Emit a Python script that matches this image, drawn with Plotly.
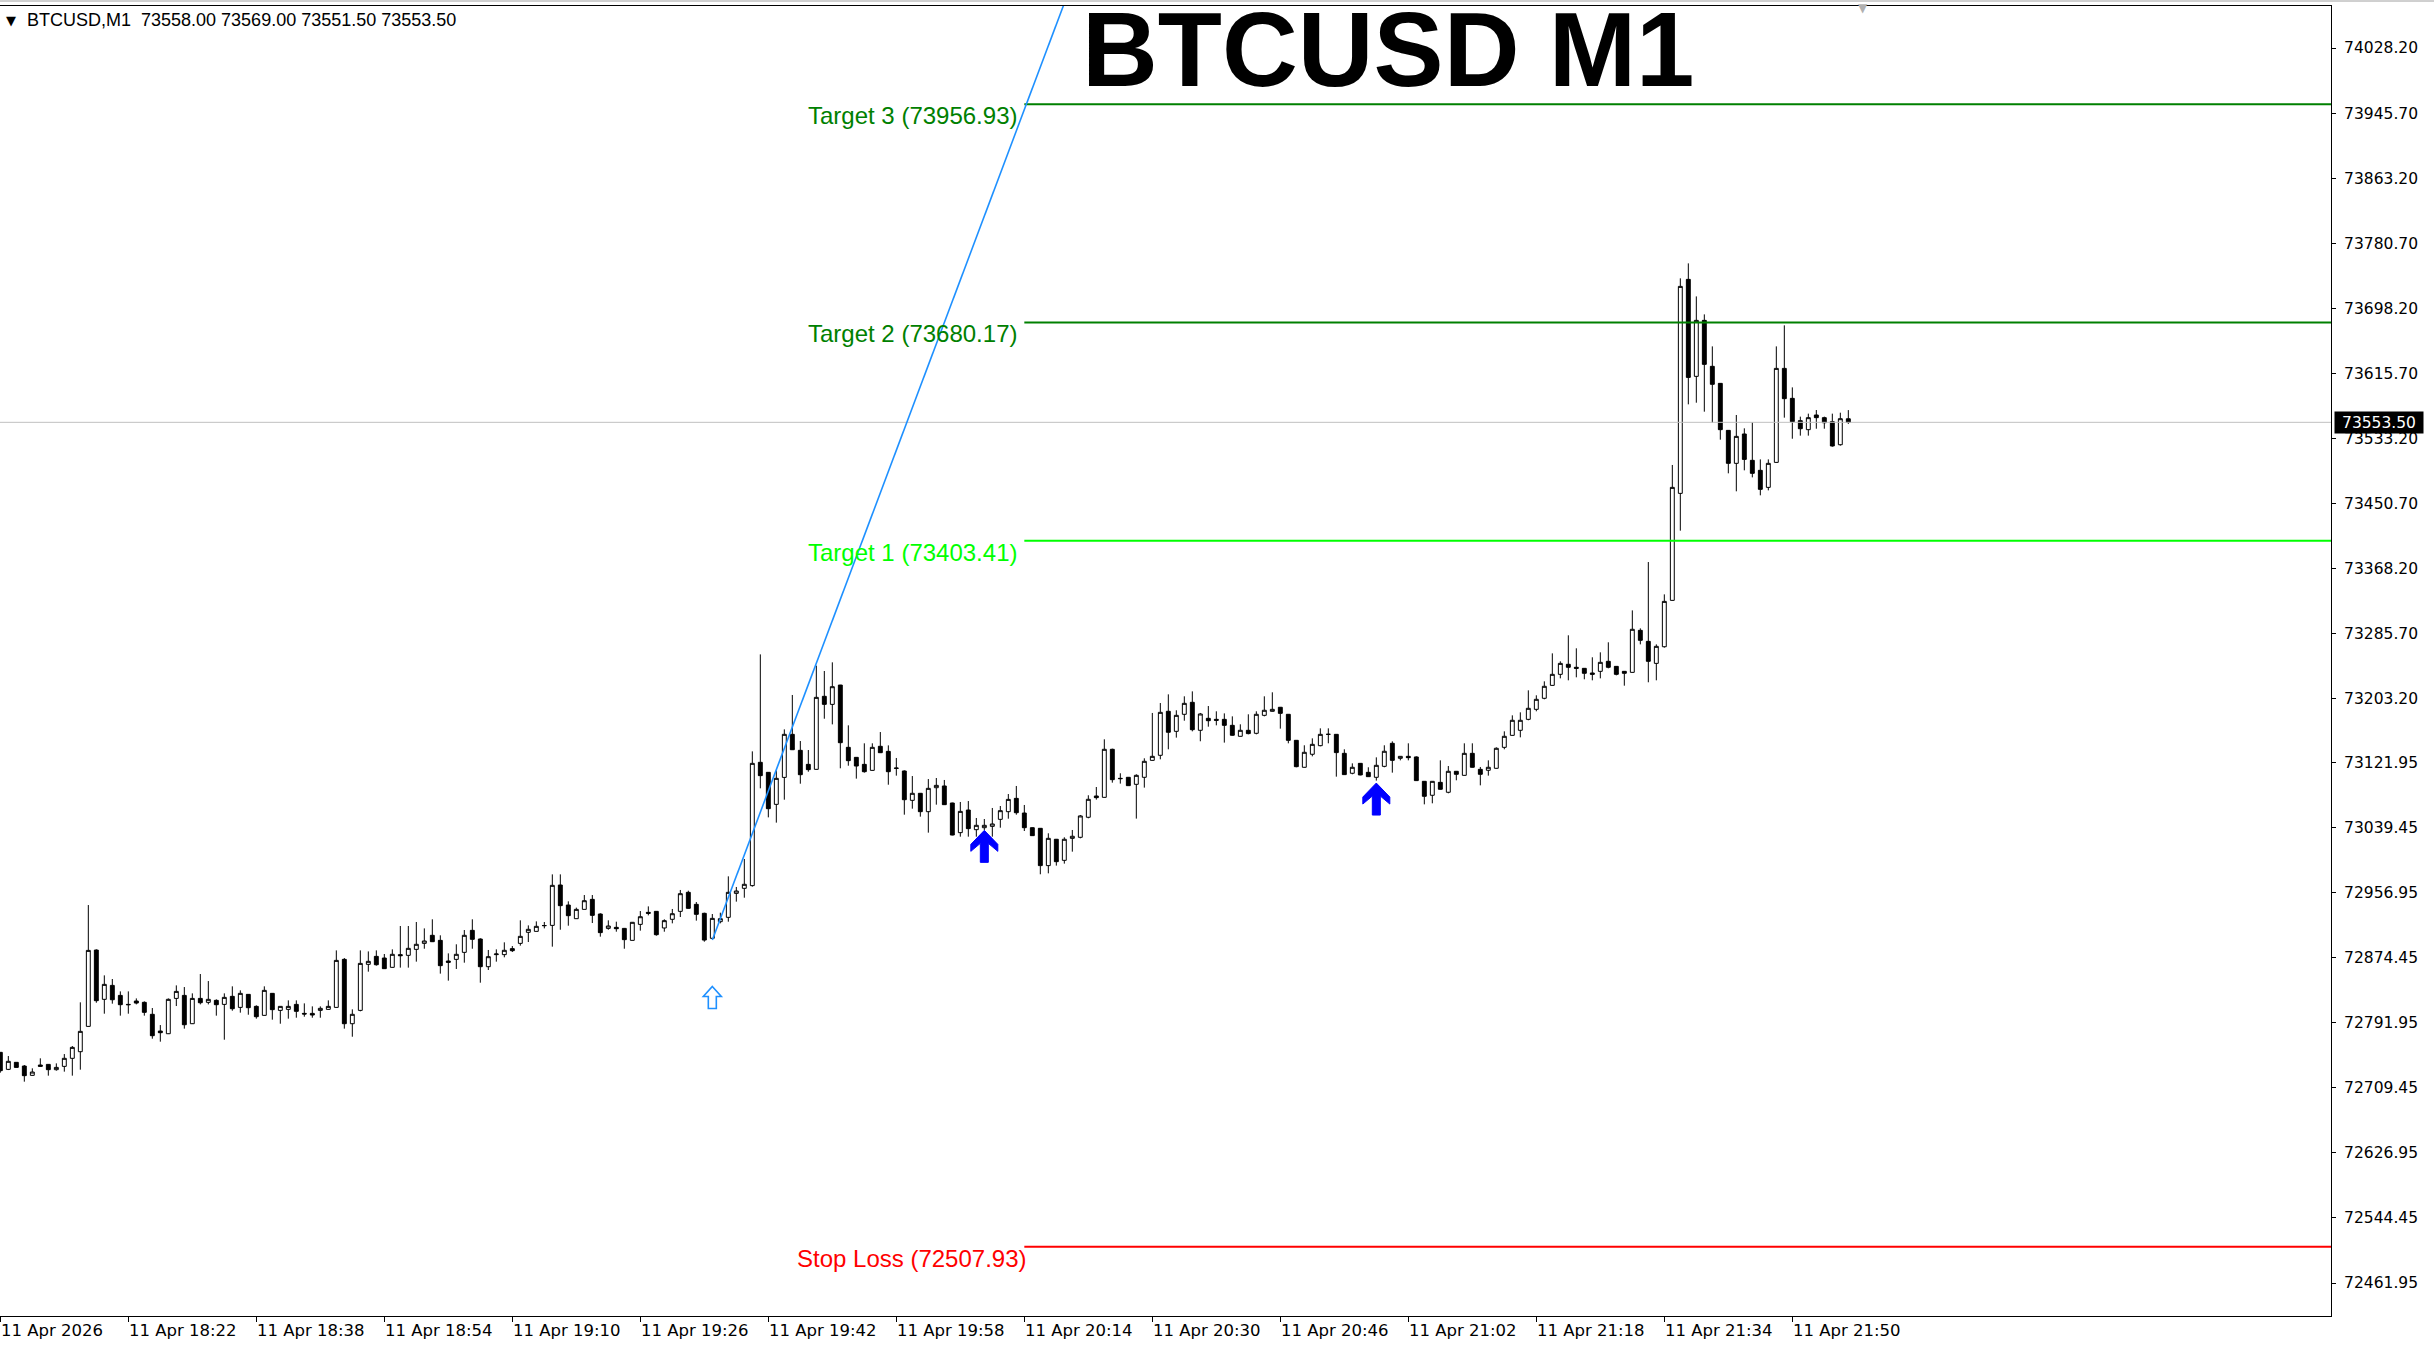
import pandas as pd
import plotly.graph_objects as go

# ---------------- data ----------------
symbol_title = "BTCUSD M1"
header_text = "BTCUSD,M1  73558.00 73569.00 73551.50 73553.50"
start_time = "2026-04-11 18:06"

opens = [72754.5, 72732.9, 72741.8, 72737.1, 72725.3, 72738.4, 72739.2, 72732.5, 72736.7, 72746.9,
         72755.3, 72787.4, 72884.2, 72821.7, 72839.4, 72826.7, 72815.3, 72819.6, 72817.9, 72802.7,
         72781.5, 72778.1, 72822.9, 72826.7, 72790.8, 72822.9, 72817.9, 72820.4, 72815.3, 72825.5,
         72811.5, 72828.0, 72812.8, 72801.4, 72829.3, 72807.7, 72809.0, 72815.3, 72803.9, 72803.9,
         72807.7, 72809.0, 72811.5, 72872.4, 72790.8, 72807.7, 72866.1, 72876.2, 72874.1, 72862.3,
         72878.4, 72877.5, 72885.1, 72892.7, 72902.9, 72896.5, 72870.3, 72872.4, 72881.3, 72909.2,
         72898.2, 72863.1, 72878.4, 72878.4, 72886.0, 72892.7, 72906.7, 72907.9, 72915.1, 72915.5,
         72966.7, 72941.3, 72924.0, 72935.8, 72948.5, 72929.9, 72911.7, 72913.0, 72911.7, 72896.5,
         72916.8, 72932.0, 72933.3, 72912.2, 72923.2, 72933.3, 72957.4, 72942.2, 72930.8, 72899.1,
         72920.2, 72925.7, 72956.1, 72962.5, 72965.9, 73122.3, 73109.6, 73069.0, 73103.2, 73157.8,
         73137.5, 73119.7, 73113.4, 73206.0, 73195.8, 73220.3, 73141.3, 73128.6, 73119.7, 73112.1,
         73142.6, 73136.2, 73115.1, 73111.3, 73074.1, 73083.0, 73059.7, 73090.1, 73092.3, 73070.7,
         73033.1, 73061.8, 73036.9, 73039.4, 73041.1, 73050.0, 73059.7, 73076.6, 73058.0, 73039.4,
         73038.6, 72991.3, 73024.7, 72998.0, 73025.9, 73027.2, 73052.6, 73079.6, 73077.9, 73138.8,
         73102.0, 73103.3, 73094.4, 73103.3, 73124.8, 73131.2, 73187.0, 73161.6, 73183.2, 73198.4,
         73162.9, 73178.1, 73176.8, 73176.8, 73169.2, 73155.3, 73162.9, 73159.1, 73181.9, 73187.0,
         73192.1, 73183.2, 73150.2, 73116.0, 73132.5, 73143.4, 73157.8, 73157.8, 73133.7, 73108.4,
         73121.0, 73109.6, 73103.3, 73117.2, 73146.4, 73127.4, 73129.9, 73129.1, 73098.2, 73080.5,
         73096.9, 73084.3, 73110.9, 73105.8, 73133.7, 73113.4, 73112.2, 73114.7, 73141.3, 73156.5,
         73162.9, 73176.8, 73189.5, 73203.5, 73219.9, 73233.9, 73246.6, 73242.8, 73241.5, 73235.6,
         73237.7, 73250.4, 73244.0, 73237.7, 73236.4, 73289.7, 73275.7, 73247.8, 73268.9, 73327.7,
         73463.4, 73734.8, 73611.8, 73682.8, 73624.5, 73602.9, 73543.3, 73501.5, 73538.7, 73505.3,
         73492.6, 73471.0, 73502.7, 73621.9, 73583.9, 73555.6, 73544.2, 73562.8, 73559.4, 73554.3,
         73525.1, 73558.0]
highs = [72754.5, 72749.8, 72741.8, 72738.4, 72734.2, 72746.9, 72739.7, 72740.5, 72752.3, 72762.5,
         72817.9, 72941.3, 72885.1, 72852.1, 72847.5, 72831.8, 72831.8, 72822.9, 72819.1, 72810.7,
         72789.1, 72822.9, 72839.4, 72837.3, 72829.3, 72853.8, 72844.9, 72821.7, 72829.3, 72838.2,
         72833.1, 72828.4, 72814.1, 72838.2, 72829.7, 72813.2, 72820.4, 72820.4, 72816.6, 72812.8,
         72812.8, 72820.4, 72883.8, 72874.1, 72809.0, 72883.8, 72882.5, 72883.8, 72879.2, 72885.1,
         72914.7, 72914.7, 72919.8, 72911.7, 72923.2, 72902.9, 72880.0, 72891.5, 72909.6, 72923.2,
         72899.1, 72884.3, 72885.1, 72894.0, 72889.3, 72921.9, 72915.5, 72920.6, 72919.8, 72980.2,
         72980.2, 72946.0, 72938.0, 72954.0, 72954.0, 72930.8, 72921.9, 72920.2, 72912.2, 72919.8,
         72933.7, 72939.6, 72933.7, 72923.2, 72936.3, 72960.4, 72959.5, 72945.1, 72931.6, 72929.9,
         72931.6, 72977.7, 72964.2, 72999.7, 73136.2, 73259.2, 73110.0, 73112.1, 73164.1, 73207.7,
         73149.3, 73137.9, 73244.9, 73238.1, 73249.1, 73220.5, 73169.2, 73128.8, 73146.4, 73146.4,
         73160.7, 73143.8, 73127.8, 73112.1, 73104.9, 73083.4, 73101.1, 73102.4, 73099.9, 73071.1,
         73072.0, 73073.2, 73051.7, 73050.4, 73064.4, 73066.9, 73082.1, 73092.3, 73068.2, 73039.8,
         73039.0, 73032.3, 73025.1, 73027.2, 73036.5, 73055.5, 73080.5, 73091.0, 73151.5, 73139.6,
         73108.4, 73103.7, 73107.1, 73127.4, 73184.9, 73197.5, 73208.5, 73188.3, 73206.0, 73212.3,
         73184.9, 73193.7, 73187.0, 73184.4, 73180.6, 73170.5, 73183.2, 73187.0, 73206.0, 73211.1,
         73192.5, 73183.6, 73150.6, 73143.9, 73152.7, 73165.4, 73165.4, 73158.2, 73138.8, 73121.0,
         73121.4, 73116.0, 73128.6, 73143.9, 73148.9, 73130.3, 73146.4, 73129.9, 73098.6, 73098.6,
         73124.8, 73117.6, 73111.3, 73146.4, 73146.4, 73116.4, 73124.8, 73141.3, 73161.6, 73181.9,
         73185.7, 73213.6, 73207.3, 73225.0, 73260.5, 73250.4, 73283.4, 73266.9, 73241.9, 73255.5,
         73261.8, 73274.5, 73244.4, 73238.1, 73315.0, 73292.2, 73376.3, 73271.9, 73335.3, 73499.4,
         73736.1, 73755.1, 73713.2, 73690.4, 73649.8, 73603.3, 73543.7, 73562.8, 73545.9, 73553.5,
         73506.5, 73506.5, 73649.8, 73676.5, 73597.8, 73560.7, 73564.5, 73569.1, 73560.7, 73564.5,
         73565.7, 73569.0]
lows = [72728.7, 72732.0, 72735.4, 72717.3, 72724.9, 72736.3, 72724.9, 72731.2, 72730.0, 72724.9,
        72732.5, 72787.0, 72817.4, 72803.5, 72816.2, 72801.0, 72803.5, 72815.3, 72801.0, 72771.8,
        72768.0, 72777.7, 72813.2, 72784.5, 72790.4, 72815.3, 72815.3, 72801.0, 72770.5, 72807.3,
        72804.8, 72802.2, 72797.2, 72801.0, 72795.9, 72790.8, 72797.2, 72798.4, 72799.7, 72798.4,
        72798.4, 72808.6, 72811.1, 72784.5, 72774.3, 72806.5, 72856.8, 72864.4, 72860.2, 72861.9,
        72861.9, 72861.9, 72869.5, 72885.9, 72894.4, 72854.3, 72845.4, 72860.2, 72868.2, 72885.9,
        72842.8, 72858.9, 72869.5, 72875.0, 72881.7, 72889.8, 72894.4, 72907.9, 72911.7, 72888.5,
        72910.0, 72915.1, 72924.0, 72935.8, 72918.5, 72901.2, 72910.0, 72907.5, 72885.9, 72896.5,
        72908.8, 72928.2, 72902.4, 72907.5, 72918.1, 72926.1, 72936.7, 72921.5, 72894.8, 72898.2,
        72918.1, 72920.2, 72945.6, 72950.6, 72964.6, 73089.3, 73052.5, 73045.8, 73074.9, 73137.9,
        73095.2, 73110.4, 73113.0, 73177.6, 73170.4, 73114.7, 73118.0, 73101.6, 73109.2, 73111.7,
        73134.1, 73093.9, 73105.4, 73055.9, 73063.5, 73053.4, 73033.1, 73068.6, 73068.2, 73029.7,
        73028.0, 73028.0, 73028.0, 73036.5, 73028.0, 73039.4, 73050.8, 73055.9, 73035.2, 73028.9,
        72980.3, 72981.5, 72991.3, 72993.8, 73009.0, 73025.9, 73051.3, 73075.0, 73077.5, 73096.5,
        73095.3, 73092.7, 73050.9, 73090.2, 73124.4, 73126.1, 73138.8, 73153.6, 73175.1, 73161.6,
        73149.0, 73167.5, 73169.2, 73147.3, 73156.1, 73155.0, 73157.8, 73157.8, 73180.6, 73186.6,
        73165.0, 73146.4, 73116.0, 73115.6, 73129.9, 73142.6, 73146.4, 73104.1, 73106.3, 73107.1,
        73105.8, 73104.1, 73099.1, 73116.0, 73109.2, 73124.8, 73124.8, 73098.7, 73069.0, 73070.3,
        73087.7, 73083.0, 73099.5, 73105.4, 73115.6, 73093.1, 73105.4, 73114.3, 73138.8, 73156.1,
        73154.0, 73175.6, 73187.0, 73202.2, 73219.5, 73228.8, 73226.3, 73230.1, 73227.6, 73226.3,
        73228.8, 73241.5, 73232.6, 73219.5, 73236.0, 73271.9, 73223.8, 73226.3, 73267.7, 73327.3,
        73416.1, 73576.3, 73578.4, 73567.0, 73553.0, 73531.5, 73488.8, 73466.0, 73492.6, 73483.7,
        73460.9, 73467.2, 73502.3, 73559.4, 73532.7, 73536.6, 73536.6, 73545.4, 73545.4, 73522.6,
        73523.9, 73551.5]
closes = [72731.2, 72743.1, 72735.4, 72724.9, 72729.5, 72736.7, 72732.5, 72735.4, 72746.9, 72760.8,
          72781.1, 72883.8, 72820.0, 72840.7, 72821.2, 72814.9, 72814.9, 72817.0, 72805.2, 72775.6,
          72779.4, 72821.7, 72831.8, 72789.5, 72822.9, 72817.4, 72821.7, 72814.9, 72824.2, 72809.8,
          72829.3, 72811.1, 72799.7, 72833.1, 72808.6, 72812.8, 72812.8, 72806.5, 72803.1, 72801.8,
          72810.3, 72812.8, 72871.1, 72790.8, 72802.7, 72867.3, 72869.9, 72865.6, 72860.6, 72878.8,
          72877.1, 72886.4, 72891.5, 72895.7, 72894.8, 72864.4, 72868.6, 72878.8, 72902.9, 72897.8,
          72863.1, 72875.8, 72879.2, 72883.9, 72883.4, 72901.6, 72910.5, 72914.3, 72915.3, 72966.3,
          72940.5, 72927.8, 72935.8, 72946.8, 72928.2, 72906.3, 72914.7, 72911.3, 72897.4, 72919.4,
          72926.5, 72930.8, 72903.7, 72921.5, 72930.3, 72955.7, 72937.1, 72929.5, 72896.9, 72924.4,
          72924.0, 72957.4, 72959.1, 72967.6, 73121.0, 73105.4, 73063.5, 73102.0, 73157.8, 73138.3,
          73106.6, 73113.0, 73204.7, 73195.8, 73218.2, 73147.2, 73124.4, 73117.6, 73110.4, 73141.3,
          73134.5, 73110.4, 73114.7, 73074.9, 73083.0, 73059.7, 73089.3, 73093.1, 73068.6, 73030.1,
          73060.1, 73038.2, 73042.4, 73042.4, 73044.1, 73061.0, 73075.3, 73058.4, 73039.4, 73029.3,
          72991.3, 73025.9, 72996.3, 73024.7, 73028.5, 73054.3, 73075.4, 73077.5, 73138.8, 73100.3,
          73101.6, 73092.7, 73105.8, 73123.6, 73129.9, 73185.7, 73160.4, 73181.9, 73197.1, 73163.7,
          73183.6, 73175.1, 73175.6, 73169.2, 73156.6, 73162.9, 73158.7, 73183.2, 73188.3, 73189.5,
          73184.4, 73150.2, 73116.8, 73135.0, 73145.1, 73157.8, 73157.8, 73134.6, 73106.7, 73116.0,
          73106.3, 73104.1, 73118.5, 73136.3, 73124.8, 73129.9, 73128.2, 73099.1, 73079.2, 73098.2,
          73088.1, 73110.9, 73107.1, 73133.7, 73116.0, 73107.1, 73116.0, 73140.1, 73155.3, 73175.6,
          73175.6, 73190.8, 73202.2, 73218.7, 73233.9, 73247.8, 73242.8, 73241.5, 73235.2, 73233.9,
          73249.1, 73242.8, 73233.9, 73235.2, 73291.0, 73277.0, 73250.4, 73269.4, 73326.4, 73471.0,
          73725.9, 73610.5, 73682.8, 73627.0, 73601.7, 73544.2, 73501.5, 73535.7, 73506.5, 73488.8,
          73468.5, 73501.5, 73621.9, 73583.5, 73554.3, 73545.4, 73559.4, 73559.4, 73553.0, 73523.5,
          73558.1, 73553.5]

# horizontal levels
level_names = ["Target 3", "Target 2", "Target 1", "Stop Loss"]
level_prices = [73956.93, 73680.17, 73403.41, 72507.93]
level_colors = ["#008000", "#008000", "#00FF00", "#FF0000"]
level_start_bar = 128
level_label_bar = 114

# trend line (two anchor points: bar index, price)
trend_bars = [89, 103]
trend_prices = [72897.0, 73275.0]

# signal arrows (bar index, price at arrow tip)
buy_bars = [123, 172]
buy_prices = [73036.0, 73096.0]
hollow_bar = 89
hollow_price = 72838.0

bid_price = 73553.50

price_ticks = [74028.20, 73945.70, 73863.20, 73780.70, 73698.20, 73615.70, 73533.20, 73450.70,
               73368.20, 73285.70, 73203.20, 73121.95, 73039.45, 72956.95, 72874.45, 72791.95,
               72709.45, 72626.95, 72544.45, 72461.95]
time_tick_bars = [0, 16, 32, 48, 64, 80, 96, 112, 128, 144, 160, 176, 192, 208, 224]
time_tick_labels = ["11 Apr 2026", "11 Apr 18:22", "11 Apr 18:38", "11 Apr 18:54", "11 Apr 19:10",
                    "11 Apr 19:26", "11 Apr 19:42", "11 Apr 19:58", "11 Apr 20:14", "11 Apr 20:30",
                    "11 Apr 20:46", "11 Apr 21:02", "11 Apr 21:18", "11 Apr 21:34", "11 Apr 21:50"]

# ---------------- figure ----------------
W, H = 2434, 1349
plot_l, plot_r, plot_t, plot_b = 0, 2331, 6, 1316
times = pd.date_range(start_time, periods=len(opens), freq="min")
t0 = times[0]
minute = pd.Timedelta(minutes=1)


def bar_time(i):
    return t0 + i * minute


px_per_bar = 8.0
x_range = [t0 - 0.04 * minute, t0 + (plot_r - plot_l) / px_per_bar * minute - 0.04 * minute]
y_range = [72420.1, 74081.5]

fig = go.Figure()

fig.add_trace(go.Candlestick(
    x=times, open=opens, high=highs, low=lows, close=closes,
    increasing=dict(line=dict(color="black", width=1), fillcolor="white"),
    decreasing=dict(line=dict(color="black", width=1), fillcolor="black"),
    whiskerwidth=0, hoverinfo="skip", showlegend=False,
))

# level lines
x_far = t0 + 400 * minute
for name, price, color in zip(level_names, level_prices, level_colors):
    fig.add_trace(go.Scatter(x=[bar_time(level_start_bar), x_far], y=[price, price], mode="lines",
                             line=dict(color=color, width=2), hoverinfo="skip", showlegend=False))
    fig.add_annotation(x=bar_time(level_label_bar), y=price, xref="x", yref="y",
                       text=f"{name} ({price:.2f})", showarrow=False, xanchor="center", yanchor="top",
                       font=dict(family="Liberation Sans", size=24, color=color), xshift=0, yshift=4)

# bid line
fig.add_trace(go.Scatter(x=[x_range[0], x_far], y=[bid_price, bid_price], mode="lines",
                         line=dict(color="#C0C0C0", width=1), hoverinfo="skip", showlegend=False))

# trend line (ray)
slope = (trend_prices[1] - trend_prices[0]) / (trend_bars[1] - trend_bars[0])
ray_end = 150
fig.add_trace(go.Scatter(x=[bar_time(trend_bars[0]), bar_time(ray_end)],
                         y=[trend_prices[0], trend_prices[0] + slope * (ray_end - trend_bars[0])],
                         mode="lines", line=dict(color="#1E90FF", width=1.6),
                         hoverinfo="skip", showlegend=False))

solid_arrow = "M 0,0 L 13.5,-14 L 13.5,-21 L 4,-13 L 4,-32 L -4,-32 L -4,-13 L -13.5,-21 L -13.5,-14 Z"
for b, p in zip(buy_bars, buy_prices):
    fig.add_shape(type="path", xref="x", yref="y", xsizemode="pixel", ysizemode="pixel",
                  xanchor=bar_time(b), yanchor=p, path=solid_arrow,
                  fillcolor="#0000FF", line=dict(color="#0000FF", width=1))

hollow_arrow = "M 0,0 L 9,-10 L 4,-10 L 4,-22 L -4,-22 L -4,-10 L -9,-10 Z"
fig.add_shape(type="path", xref="x", yref="y", xsizemode="pixel", ysizemode="pixel",
              xanchor=bar_time(hollow_bar), yanchor=hollow_price, path=hollow_arrow,
              fillcolor="white", line=dict(color="#1E90FF", width=1.6))

# top grey line over the whole window
fig.add_shape(type="line", xref="paper", yref="paper", x0=0, x1=W / (plot_r - plot_l),
              y0=(plot_b - 1) / (plot_b - plot_t), y1=(plot_b - 1) / (plot_b - plot_t),
              line=dict(color="#A0A0A0", width=1))


def py(y_px):
    return (plot_b - y_px) / (plot_b - plot_t)


def pxf(x_px):
    return (x_px - plot_l) / (plot_r - plot_l)


# title
fig.add_annotation(x=pxf(1388), y=py(50), xref="paper", yref="paper", text=f"<b>{symbol_title}</b>",
                   showarrow=False, xanchor="center", yanchor="middle",
                   font=dict(family="Liberation Sans", size=105, color="black"))
# header
fig.add_annotation(x=pxf(4), y=py(20), xref="paper", yref="paper", text="▼",
                   showarrow=False, xanchor="left", yanchor="middle",
                   font=dict(family="DejaVu Sans", size=13, color="black"))
fig.add_annotation(x=pxf(25), y=py(20), xref="paper", yref="paper", text=header_text.replace("  ", "&nbsp; "),
                   showarrow=False, xanchor="left", yanchor="middle",
                   font=dict(family="Liberation Sans", size=18, color="black"))
# chart shift marker
fig.add_annotation(x=pxf(1863), y=py(8), xref="paper", yref="paper", text="▼",
                   showarrow=False, xanchor="center", yanchor="middle",
                   font=dict(family="DejaVu Sans", size=12, color="#B0B0B0"))

# time labels (left-aligned at tick)
for b, lab in zip(time_tick_bars, time_tick_labels):
    fig.add_annotation(x=bar_time(b), y=0, xref="x", yref="paper", text=lab, showarrow=False,
                       xanchor="left", yanchor="top", xshift=-1, yshift=-3,
                       font=dict(family="DejaVu Sans", size=16.5, color="black"))

# bid price label
fig.add_annotation(x=1, y=bid_price, xref="paper", yref="y", text=f"{bid_price:.2f}", showarrow=False,
                   xanchor="left", yanchor="middle", xshift=3, bgcolor="black", borderpad=0,
                   width=88, height=21, align="center",
                   font=dict(family="DejaVu Sans", size=15.5, color="white"))

fig.update_layout(
    width=W, height=H, paper_bgcolor="white", plot_bgcolor="white",
    margin=dict(l=plot_l, r=W - plot_r, t=plot_t, b=H - plot_b, pad=0),
    showlegend=False, hovermode=False,
    xaxis=dict(range=x_range, rangeslider=dict(visible=False), showgrid=False, zeroline=False,
               showline=True, linecolor="black", linewidth=1, mirror=True,
               tickmode="array", tickvals=[bar_time(b) for b in time_tick_bars],
               ticks="outside", ticklen=5, tickcolor="black", showticklabels=False),
    yaxis=dict(range=y_range, side="right", showgrid=False, zeroline=False,
               showline=True, linecolor="black", linewidth=1,
               tickmode="array", tickvals=price_ticks, ticktext=[f"{v:.2f}" for v in price_ticks],
               ticks="outside", ticklen=4, tickcolor="black", ticklabelstandoff=5,
               tickfont=dict(family="DejaVu Sans", size=15.5, color="black")),
)

fig.write_html("out.html", config={"displayModeBar": False},
               post_script="document.body.style.margin='0px';document.body.style.overflow='hidden';")
